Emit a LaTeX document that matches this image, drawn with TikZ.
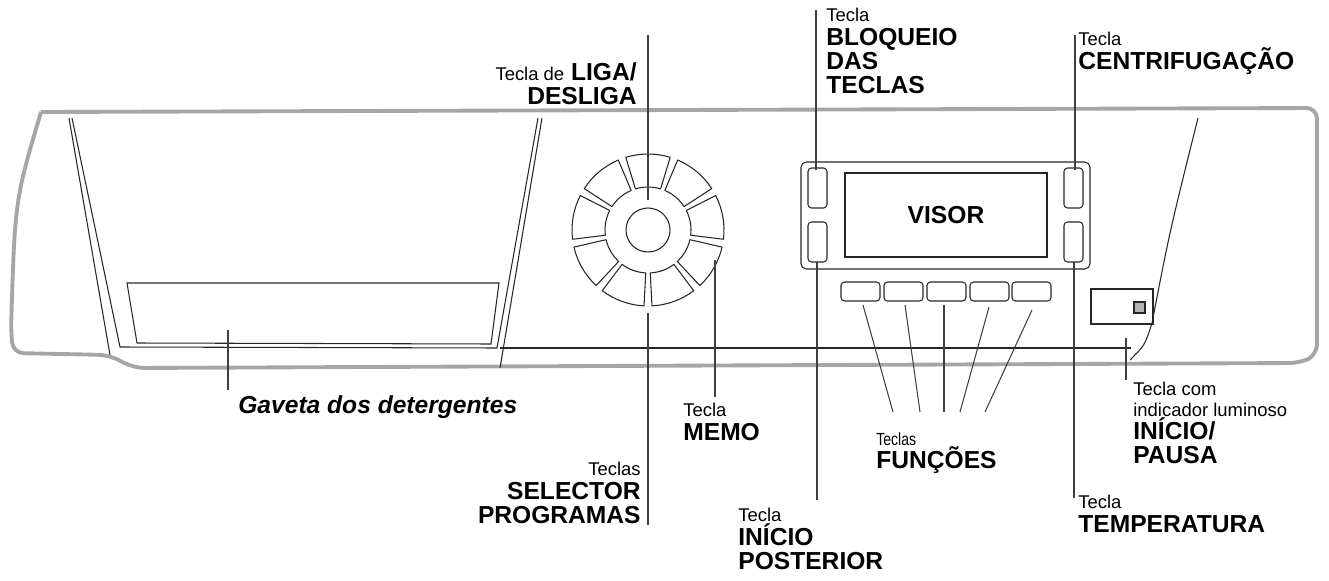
\documentclass[tikz,border=0pt]{standalone}
\usepackage{fontspec}
\setmainfont{Liberation Sans}
\usetikzlibrary{positioning}
\newcommand{\sm}[1]{{\fontsize{10.5}{13.6}\selectfont\mdseries #1}}
\begin{document}
\begin{tikzpicture}[x=0.02cm,y=-0.02cm,
    panel/.style={draw=gray!70,line width=2.2pt,line join=round},
    thin/.style={draw=black!85,line width=0.6pt},
    key/.style={thin,rounded corners=2pt},
    lead/.style={draw=black!75,line width=0.6pt},
    lbl/.style={inner sep=0pt,font=\bfseries\fontsize{14}{13.6}\selectfont}
]
\useasboundingbox (0,0) rectangle (1329,581);

% panel outline
\draw[panel,rounded corners=6pt] (41,112) -- (1317,108) -- (1317,355) -- (1300,363) -- (134,368) -- (109,355) -- (13,353) -- (11,330) .. controls (15,200) .. (41,112);
% drawer
\draw[thin] (69,118) -- (110,355);
\draw[thin] (72,118) -- (120,347) -- (497,348) -- (538,118);
\draw[thin] (542,118) -- (500,368);
\draw[thin] (500,348) -- (1131,348);
\draw[thin] (1198,118) .. controls (1170,230) .. (1152,323) .. controls (1145,345) .. (1130,360);
\draw[thin] (127,283) -- (499,283) -- (491,344) -- (137,343) -- cycle;

% selector dial
\begin{scope}[shift={(648,230)}]
  \draw[thin] (0,0) circle[radius=22];
  \foreach \a in {30,70,...,350}
    \draw[thin,line join=round] ({\a-17}:43) -- ({\a-17}:76) arc[start angle=\a-17,end angle=\a+17,radius=76] -- ({\a+17}:43) arc[start angle=\a+17,end angle=\a-17,radius=43] -- cycle;
\end{scope}

% display block
\draw[thin,rounded corners=3pt] (801,162) rectangle (1090,269);
\node[thin,minimum width=202*0.02cm,minimum height=84*0.02cm,inner sep=0pt,font=\bfseries\fontsize{14}{14}\selectfont] (visor) at (946,215) {VISOR};
\draw[key] (808,168) rectangle (827,208);
\draw[key] (808,222) rectangle (827,262);
\draw[key] (1064,168) rectangle (1083,208);
\draw[key] (1064,222) rectangle (1083,262);
\foreach \x in {841,884,927,970,1012}
  \draw[key] (\x,282) rectangle (\x+39,301);
\draw[thin] (1091,289) rectangle (1153,324);
\draw[thin,fill=gray!60] (1134,302) rectangle (1145,313);

% leader lines
\coordinate (liga) at (648,200);
\draw[lead] (648,35) -- (liga);
\draw[lead] (648,313) -- (648,525);
\draw[lead] (715,260) -- (715,397);
\draw[lead] (816,10) -- (816,170);
\draw[lead] (817,262) -- (817,500);
\draw[lead] (1075,35) -- (1075,170);
\draw[lead] (1074,262) -- (1074,498);
\draw[lead] (1126,338) -- (1126,380);
\draw[lead] (228,330) -- (228,390);
\draw[lead] (863,305) -- (893,412);
\draw[lead] (905,305) -- (920,412);
\draw[lead] (944,305) -- (944,412);
\draw[lead] (989,307) -- (960,412);
\draw[lead] (1032,310) -- (985,412);

% labels
\node[lbl,anchor=north east,align=right] (l_liga) at (637,62) {\sm{Tecla de} LIGA/\\DESLIGA};
\node[lbl,anchor=north west,align=left] (l_bloq) at (826,8) {\sm{Tecla}\\BLOQUEIO\\DAS\\TECLAS};
\node[lbl,anchor=north west,align=left] (l_centr) at (1078,32) {\sm{Tecla}\\CENTRIFUGAÇÃO};
\node[lbl,anchor=west,font=\bfseries\itshape\fontsize{14}{14}\selectfont] (l_gav) at (238,407) {Gaveta dos detergentes};
\node[lbl,anchor=north west,align=left] (l_memo) at (683,403) {\sm{Tecla}\\MEMO};
\node[lbl,anchor=north east,align=right] (l_sel) at (641,462) {\sm{Teclas}\\SELECTOR\\PROGRAMAS};
\node[lbl,anchor=north west,align=left] (l_post) at (738,508) {\sm{Tecla}\\INÍCIO\\POSTERIOR};
\node[lbl,anchor=north west,align=left] (l_func) at (876,432) {{\fontsize{10}{13.6}\selectfont\mdseries\addfontfeature{FakeStretch=0.8}Teclas}\\FUNÇÕES};
\node[lbl,anchor=north west,align=left] (l_pausa) at (1133,382) {\sm{Tecla com}\\[-2pt]\sm{indicador luminoso}\\INÍCIO/\\PAUSA};
\node[lbl,anchor=north west,align=left] (l_temp) at (1078,495) {\sm{Tecla}\\TEMPERATURA};
\end{tikzpicture}
\end{document}
